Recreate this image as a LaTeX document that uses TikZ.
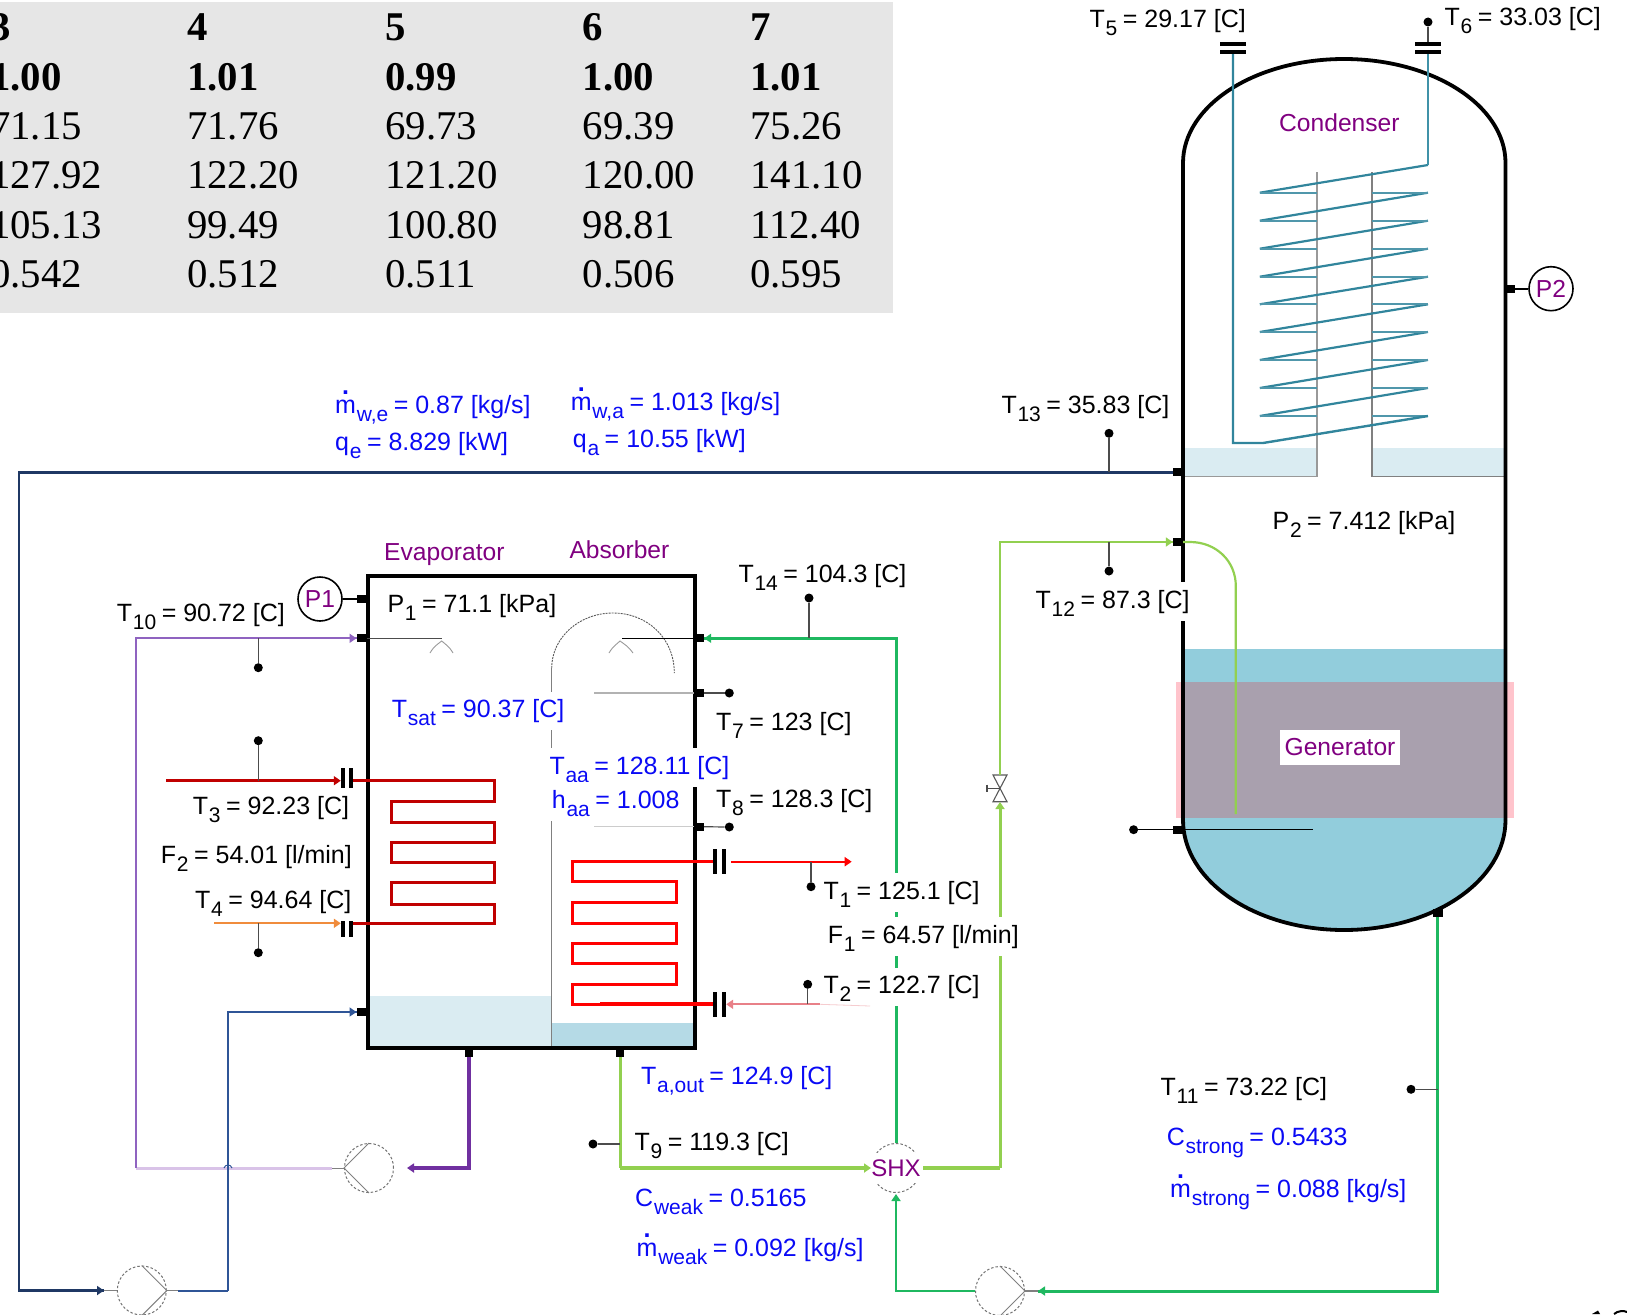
\documentclass[tikz,border=0pt]{standalone}
\usepackage{fontspec}
\setmainfont{Liberation Sans}
\newfontfamily\tabfont{Liberation Serif}
\usetikzlibrary{arrows.meta,calc}
\definecolor{tabgray}{HTML}{E6E6E6}
\definecolor{lblblue}{HTML}{0A0AF5}
\definecolor{lblpurple}{HTML}{800080}
\definecolor{liqpale}{HTML}{DAECF2}
\definecolor{liqmid}{HTML}{B5DAE6}
\definecolor{liqgen}{HTML}{92CDDC}
\definecolor{bandpink}{HTML}{FFC4CC}
\definecolor{bandmix}{HTML}{A9A0AE}
\definecolor{navy}{HTML}{1F3864}
\definecolor{midblue}{HTML}{2F5597}
\definecolor{vio}{HTML}{8F63C0}
\definecolor{viodark}{HTML}{7030A0}
\definecolor{viopale}{HTML}{D9C3E8}
\definecolor{lgreen}{HTML}{92D050}
\definecolor{dgreen}{HTML}{1FB860}
\definecolor{coilteal}{HTML}{31859C}
\definecolor{pipeteal}{HTML}{4BACC6}
\definecolor{darkred}{HTML}{C00000}
\definecolor{orangeline}{HTML}{F08C3C}
\definecolor{pinkline}{HTML}{E88088}
\newcommand{\lb}[3]{#1\raisebox{-.32em}{\kern.03em\fontsize{21}{23}\selectfont #2}\kern.22em #3}
\newcommand{\mdotx}{\makebox[0pt][l]{\kern.28em\raisebox{.76em}{\textbf{.}}}m}
\tikzset{
  txtbase/.style={anchor=base west,inner ysep=0pt,inner xsep=2pt,xshift=-2pt,font=\fontsize{25}{28}\selectfont},
  mask/.style={fill=white,text height=26pt,text depth=12.5pt},
  blk/.style={txtbase,text=black},
  blu/.style={txtbase,text=lblblue},
  pur/.style={txtbase,text=lblpurple,font=\fontsize{24.6}{28}\selectfont},
  tabcell/.style={anchor=base west,inner sep=0pt,font=\tabfont\fontsize{40.8}{44}\selectfont},
  port/.style={rectangle,fill=black,inner sep=0pt,minimum width=10pt,minimum height=8pt},
  dot/.style={circle,fill=black,inner sep=0pt,minimum size=9pt},
  gaugec/.style={circle,draw=black,line width=1.6pt,fill=white,inner sep=0pt,minimum size=44pt,
    text=lblpurple,font=\fontsize{24.6}{28}\selectfont},
  pumpc/.style={circle,draw=gray!90!black,line width=1pt,dash pattern=on 2.5pt off 2pt,inner sep=0pt,minimum size=49pt},
  pumpl/.style={draw=gray,line width=1pt},
  vbar/.style={rectangle,fill=black,inner sep=0pt,minimum width=4pt},
  hbar/.style={rectangle,fill=black,inner sep=0pt,minimum height=4pt,minimum width=26pt},
  sens/.style={draw=gray!60!black,line width=1.2pt},
  tipa/.style={-{Triangle[length=7pt,width=9pt]}},
  nozz/.style={draw=gray!80,line width=.9pt},
}
\begin{document}
\begin{tikzpicture}[x=1pt,y=-1pt]
\useasboundingbox (0,0) rectangle (1627,1314);
% table
\fill[tabgray] (0,2) rectangle (893,312.5);
\foreach \rr/\yy/\ca/\cb/\cc/\cd/\ce/\cf/\bfx in {
  a/41/3/4/5/6/7/x/1,
  b/90/1.00/1.01/0.99/1.00/1.01/x/1,
  c/139/71.15/71.76/69.73/69.39/75.26/x/0,
  d/188.5/127.92/122.20/121.20/120.00/141.10/x/0,
  e/238/105.13/99.49/100.80/98.81/112.40/x/0,
  f/287/0.542/0.512/0.511/0.506/0.595/x/0}{
  \ifnum\bfx=1 \def\fw{\bfseries}\else\def\fw{}\fi
  \node[tabcell] (cell\rr1) at (-10,\yy) {\fw\ca};
  \node[tabcell] (cell\rr2) at (186.8,\yy) {\fw\cb};
  \node[tabcell] (cell\rr3) at (385,\yy) {\fw\cc};
  \node[tabcell] (cell\rr4) at (582.7,\yy) {\fw\cd};
  \node[tabcell] (cell\rr5) at (750,\yy) {\fw\ce};
}
% condenser liquid, baffles
\fill[liqpale] (1183,448) rectangle (1316.8,476.7);
\fill[liqpale] (1372,448) rectangle (1505.5,476.7);
\draw[gray!80,line width=1.4pt] (1316.8,172) -- (1316.8,476.7) -- (1183,476.7);
\draw[gray,line width=1.4pt] (1372,172) -- (1372,476.7) -- (1505.5,476.7);
% generator liquid
\fill[liqgen] (1183,649) -- (1183,820) .. controls (1183,880.8) and (1254.8,930) .. (1344,930)
  .. controls (1433.2,930) and (1505.5,880.8) .. (1505.5,820) -- (1505.5,649) -- cycle;
\fill[bandpink] (1175.6,681.7) rectangle (1513.5,818.3);
\fill[bandmix] (1183,681.7) rectangle (1505.5,818.3);
% vessel wall
\draw[black,line width=3.8pt] (1183,820) -- (1183,163)
  .. controls (1183,105.6) and (1254.8,59) .. (1344,59)
  .. controls (1433.2,59) and (1505.5,105.6) .. (1505.5,163) -- (1505.5,820);
\draw[black,line width=3.8pt] (1183,820) .. controls (1183,880.8) and (1254.8,930) .. (1344,930)
  .. controls (1433.2,930) and (1505.5,880.8) .. (1505.5,820);
% condenser coil
\foreach \ya/\yb in {416/388,388/360,360/332,332/304.3,304.3/276.7,276.7/248.7,248.7/220.7,220.7/192.7,192.7/165}{
  \draw[coilteal,line width=2.2pt] (1259.8,\ya) -- (1428,\yb);
}
\foreach \yy in {416,388,360,332,304.3,276.7,248.7,220.7,192.7}{
  \draw[coilteal!85,line width=1.9pt] (1259.8,\yy) -- (1316.8,\yy);
  \draw[coilteal!85,line width=1.9pt] (1372,\yy) -- (1428,\yy);
}
\node[hbar] (fl5a) at (1233,44) {};
\node[hbar] (fl5b) at (1233,52) {};
\node[hbar] (fl6a) at (1428,44) {};
\node[hbar] (fl6b) at (1428,52) {};
\draw[coilteal,line width=2.4pt] (fl5b.south) -- (1233,443) -- (1263,443) -- (1428,416);
\draw[pipeteal!85!black,line width=2.2pt] (fl6b.south) -- (1428,165);
% evaporator/absorber liquid
\fill[liqpale] (370,995.7) rectangle (551.7,1047);
\fill[liqmid] (551.7,1023) rectangle (693,1047);
\draw[gray,line width=1.1pt] (551.7,1047) -- (551.7,668);
\draw[gray!70!black,line width=.9pt,dash pattern=on 2pt off 1pt] (551.7,668)
  .. controls (551.7,637.6) and (579.3,613) .. (613,613)
  .. controls (646.7,613) and (674.3,637.6) .. (674.3,673);
% evaporator/absorber wall
\draw[black,line width=3.8pt] (367.7,576) rectangle (695,1047.7);
% ports
\node[port] (pP1) at (361.7,599) {};
\node[port] (pT10) at (361.7,638.3) {};
\node[port] (pBlue) at (361.7,1012) {};
\node[port,minimum width=8pt,minimum height=9pt] (pEvapOut) at (469,1052) {};
\node[port,minimum width=8pt,minimum height=9pt] (pAbsOut) at (620.4,1052) {};
\node[port] (pT14) at (699,638.3) {};
\node[port] (pT7) at (699,693) {};
\node[port] (pT8) at (699,826.7) {};
\node[port] (pT13) at (1178,472.3) {};
\node[port] (pT12) at (1178,542) {};
\node[port] (pGenS) at (1178.3,829.7) {};
\node[port] (pStrong) at (1437.8,913) {};
\node[port] (pP2) at (1510,288.7) {};
% gauges
\node[gaugec] (gP1) at (320,599) {P1};
\node[gaugec] (gP2) at (1551,288.7) {P2};
\draw[black,line width=1.8pt] (gP1) -- (pP1);
\draw[black,line width=1.8pt] (gP2) -- (pP2);
% pumps
\node[pumpc] (pumpA) at (141.8,1290.5) {};
\node[pumpc] (pumpB) at (369,1168) {};
\node[pumpc] (pumpC) at (1000,1291) {};
\draw[pumpl] (pumpA.90) -- (pumpA.0) -- (pumpA.-90);
\draw[pumpl] (pumpB.90) -- (pumpB.180) -- (pumpB.-90);
\draw[pumpl] (pumpC.90) -- (pumpC.0) -- (pumpC.-90);
\node[pumpc] (shxc) at (896,1168) {};
% coordinates
\coordinate (navyTL) at (19,472.3);
\coordinate (navyBL) at (19,1290.5);
\coordinate (navyTip) at (104,1290.5);
\coordinate (blueB) at (228,1290.5);
\coordinate (blueStub) at (178,1290.5);
\coordinate (vioC) at (135.7,638.3);
\coordinate (vioB) at (135.7,1168);
\coordinate (vioE) at (332,1168);
\coordinate (purCorner) at (469,1168);
\coordinate (purTip) at (407,1168);
\coordinate (lgCorner) at (620.4,1168);
\coordinate (lgTip) at (871,1168);
\coordinate (rgCorner) at (1000,1168);
\coordinate (valveB) at (1000,802);
\coordinate (valveT) at (1000,775);
\coordinate (lgTop) at (1000,542);
\coordinate (dgCornerTop) at (896,638.3);
\coordinate (dgBL) at (896,1291);
\coordinate (dgTip) at (896,1194);
\coordinate (dgBR) at (1437.8,1291);
\coordinate (dgIn) at (1038,1291);
% valve
\draw[gray!70!black,line width=1.1pt] (993,775) -- (1007,775) -- (993,801.7) -- (1007,801.7) -- cycle;
\draw[gray!60!black,line width=1.6pt] (987,788.3) -- (1000,788.3);
\draw[gray!60!black,line width=1.6pt] (987,784.5) -- (987,792);
% pipes
\draw[navy,line width=2.8pt] (pT13.west) -- (navyTL) -- (navyBL) -- (navyTip);
\draw[navy,line width=2.8pt,tipa] (99,1290.5) -- (navyTip);
\draw[gray,line width=1.2pt] (navyTip) -- (pumpA.west);
\draw[gray,line width=1.2pt] (pumpA.east) -- (blueStub);
\draw[midblue,line width=2pt] (blueStub) -- (blueB);
\draw[viopale,line width=3pt] (vioB) -- (vioE);
\draw[gray,line width=1pt] (vioE) -- (pumpB.west);
\draw[vio,line width=2pt] (vioB) -- (vioC) -- (pT10.west);
\draw[vio,line width=2pt,tipa] (345,638.3) -- (pT10.west);
\draw[midblue,line width=1.5pt] (blueB) -- (228,1012) -- (pBlue.west);
\draw[midblue,line width=1.5pt,tipa] (345,1012) -- (pBlue.west);
\draw[midblue,line width=1pt] (224,1168) .. controls (225,1164) and (231,1164) .. (232,1168);
\draw[viodark,line width=3.2pt] (pEvapOut.south) -- (purCorner) -- (412,1168);
\draw[viodark,tipa,line width=3.2pt] (412,1168) -- (purTip);
\draw[lgreen,line width=2.2pt] (pAbsOut.south) -- (lgCorner);
\draw[lgreen,line width=3.6pt] (lgCorner) -- (866,1168);
\draw[lgreen,line width=3.6pt,tipa] (866,1168) -- (lgTip);
\draw[lgreen,line width=3.6pt] (923,1168) -- (rgCorner);
\draw[lgreen,line width=3pt] (rgCorner) -- (1000,808);
\draw[lgreen,line width=3pt,tipa] (1000,808) -- (valveB);
\draw[lgreen,line width=2.6pt] (valveT) -- (lgTop) -- (pT12.west);
\draw[lgreen,line width=2.6pt,tipa] (1165,542) -- (pT12.west);
\draw[lgreen,line width=2.2pt] (pT12.east) -- (1190,542) .. controls (1216,542) and (1235.8,561) .. (1235.8,586) -- (1235.8,814);
\draw[dgreen,line width=3pt] (shxc.north) -- (dgCornerTop) -- (pT14.east);
\draw[dgreen,line width=3pt,tipa] (712,638.3) -- (pT14.east);
\draw[dgreen,line width=1.8pt] (pumpC.west) -- (dgBL) -- (896,1200);
\draw[dgreen,line width=1.8pt,tipa] (896,1202) -- (dgTip);
\draw[dgreen,line width=3pt] (pStrong.south) -- (dgBR) -- (dgIn);
\draw[dgreen,line width=3pt,tipa] (1045,1291) -- (dgIn);
\draw[gray,line width=1.2pt] (dgIn) -- (pumpC.east);
% evaporator and absorber inner lines, nozzles
\draw[gray!60!black,line width=1.1pt] (pT10.east) -- (441.7,638.3);
\draw[nozz] (430,653) .. controls (434,646) and (438,644) .. (441.7,641) .. controls (445,644) and (449,646) .. (453,653);
\draw[black,line width=1.3pt] (pT14.west) -- (622,638.3);
\draw[nozz] (609,653) .. controls (613,646) and (617,644) .. (620,641) .. controls (624,644) and (628,646) .. (633,653);
\draw[gray!60,line width=1.1pt] (pT7.west) -- (594,693);
\draw[gray!40,line width=1.1pt] (pT8.west) -- (594,826.7);
% evaporator coil
\node[vbar,minimum height=20.3pt] (fl3a) at (343,778) {};
\node[vbar,minimum height=20.3pt] (fl3b) at (350.7,778) {};
\node[vbar,minimum height=15.7pt] (fl4a) at (343,929) {};
\node[vbar,minimum height=15.7pt] (fl4b) at (350.7,929) {};
\draw[darkred,line width=3pt] (fl3b.east |- 0,780.7) -- (494.3,780.7) -- (494.3,801) -- (391.7,801) -- (391.7,822.7)
  -- (494.3,822.7) -- (494.3,842.7) -- (391.7,842.7) -- (391.7,862.3) -- (494.3,862.3) -- (494.3,882.3)
  -- (391.7,882.3) -- (391.7,904) -- (494.3,904) -- (494.3,923.3) -- (fl4b.east |- 0,923.3);
\coordinate (r3in) at (166,780.7);
\coordinate (o4in) at (214,923.3);
\draw[darkred,line width=2.8pt,tipa] (r3in) -- (fl3a.west |- 0,780.7);
\draw[orangeline,line width=1.8pt,tipa] (o4in) -- (fl4a.west |- 0,923.3);
% absorber coil
\node[vbar,minimum height=25.3pt] (fl1a) at (715,861.7) {};
\node[vbar,minimum height=25.3pt] (fl1b) at (724,861.7) {};
\node[vbar,minimum height=24.4pt] (fl2a) at (715,1004.5) {};
\node[vbar,minimum height=24.4pt] (fl2b) at (724,1004.5) {};
\draw[red,line width=3pt] (fl1a.west) -- (572.7,861.7) -- (572.7,881.7) -- (676,881.7) -- (676,902.7) -- (572.7,902.7)
  -- (572.7,923.3) -- (676,923.3) -- (676,943.3) -- (572.7,943.3) -- (572.7,963.3) -- (676,963.3)
  -- (676,984) -- (572.7,984) -- (572.7,1004.3) -- (600,1004.3);
\draw[red,line width=3.8pt] (600,1004.3) -- (fl2a.west |- 0,1004.3);
\coordinate (r1out) at (851.7,861.7);
\coordinate (r2in) at (820,1004.3);
\coordinate (r1start) at (731,861.7);
\draw[red,line width=2pt,tipa] (r1start) -- (r1out);
\draw[pinkline,line width=1.8pt,tipa] (r2in) -- (fl2b.east |- 0,1004.3);
% labels
\node[blk] (lT5) at (1089.5,27.3) {\lb{T}{5}{= 29.17 [C]}};
\node[blk] (lT6) at (1444.5,26) {\lb{T}{6}{= 33.03 [C]}};
\node[pur] (lCond) at (1279,131.7) {Condenser};
\node[blk] (lT13) at (1001.3,413.3) {\lb{T}{13}{= 35.83 [C]}};
\node[blu] (lmwe) at (335,413.3) {\lb{\mdotx}{w,e}{= 0.87 [kg/s]}};
\node[blu] (lqe) at (335,450) {\lb{q}{e}{= 8.829 [kW]}};
\node[blu] (lmwa) at (570.7,410.7) {\lb{\mdotx}{w,a}{= 1.013 [kg/s]}};
\node[blu] (lqa) at (572.7,447.5) {\lb{q}{a}{= 10.55 [kW]}};
\node[blk] (lP2) at (1272.4,529) {\lb{P}{2}{= 7.412 [kPa]}};
\node[blk,mask] (lT12) at (1035.5,608) {\lb{T}{12}{= 87.3 [C]}};
\node[pur] (lEvap) at (384,560) {Evaporator};
\node[pur] (lAbs) at (569.3,558.3) {Absorber};
\node[blk] (lT14) at (738.3,582.5) {\lb{T}{14}{= 104.3 [C]}};
\node[blk] (lP1) at (387.3,612.7) {\lb{P}{1}{= 71.1 [kPa]}};
\node[blk] (lT10) at (116.7,621.7) {\lb{T}{10}{= 90.72 [C]}};
\node[blu,mask] (lTsat) at (391.7,717.7) {\lb{T}{sat}{= 90.37 [C]}};
\node[blk] (lT7) at (716,730.7) {\lb{T}{7}{= 123 [C]}};
\node[blu,mask] (lTaa) at (549.3,774) {\lb{T}{aa}{= 128.11 [C]}};
\node[blu,mask] (lhaa) at (551.7,808.3) {\lb{h}{aa}{= 1.008}};
\node[blk] (lT8) at (716,807.8) {\lb{T}{8}{= 128.3 [C]}};
\node[blk] (lT3) at (192.7,814) {\lb{T}{3}{= 92.23 [C]}};
\node[blk] (lF2) at (160.7,863.3) {\lb{F}{2}{= 54.01 [l/min]}};
\node[blk] (lT4) at (195,908.5) {\lb{T}{4}{= 94.64 [C]}};
\node[blk,mask] (lT1) at (823.3,899) {\lb{T}{1}{= 125.1 [C]}};
\node[blk,mask] (lF1) at (827.7,943.3) {\lb{F}{1}{= 64.57 [l/min]}};
\node[blk,mask] (lT2) at (823.3,993.5) {\lb{T}{2}{= 122.7 [C]}};
\node[blk] (lT11) at (1160.5,1095) {\lb{T}{11}{= 73.22 [C]}};
\node[blu] (lCs) at (1166.6,1145) {\lb{C}{strong}{= 0.5433}};
\node[blu] (lms) at (1170,1197) {\lb{\mdotx}{strong}{= 0.088 [kg/s]}};
\node[blu] (lTo) at (641,1084) {\lb{T}{a,out}{= 124.9 [C]}};
\node[blk] (lT9) at (634.4,1150.5) {\lb{T}{9}{= 119.3 [C]}};
\node[blu] (lCw) at (635,1206.5) {\lb{C}{weak}{= 0.5165}};
\node[blu] (lmw) at (636.5,1256) {\lb{\mdotx}{weak}{= 0.092 [kg/s]}};
\node[fill=white,text=lblpurple,inner sep=0pt,minimum width=120pt,minimum height=35pt,font=\fontsize{24.6}{28}\selectfont] (lGen) at (1340,747) {Generator};
\node[fill=white,text=lblpurple,inner sep=0pt,minimum width=46pt,minimum height=30pt,font=\fontsize{24}{28}\selectfont] (lSHX) at (896,1168) {SHX};
\draw[pinkline!40,line width=.8pt] (r2in) -- (870,1006);
% sensors
\node[dot] (sT6) at (1428,22) {};
\draw[sens] (sT6) -- (fl6a);
\node[dot] (sT13) at (1109,433.3) {};
\draw[sens] (sT13) -- (1109,472.3);
\node[dot] (sT12) at (1109,571) {};
\draw[sens] (sT12) -- (1109,542);
\node[dot] (sT10) at (258.3,667.7) {};
\draw[sens] (sT10) -- (258.3,638.3);
\node[dot] (sT3) at (258.3,740.7) {};
\draw[sens] (sT3) -- (258.3,780.7);
\node[dot] (sT4) at (258.3,952.7) {};
\draw[sens] (sT4) -- (258.3,923.3);
\node[dot] (sT14) at (809,598) {};
\draw[sens] (sT14) -- (809,638.3);
\node[dot] (sT7) at (729.3,693) {};
\draw[sens] (sT7) -- (pT7);
\node[dot] (sT8) at (729.3,827) {};
\draw[sens] (sT8) -- (pT8);
\node[dot] (sT1) at (811,886.7) {};
\draw[sens] (sT1) -- (811,861.7);
\node[dot] (sT2) at (807.7,984.3) {};
\draw[sens] (sT2) -- (807.7,1004.3);
\node[dot] (sT9) at (593,1144) {};
\draw[sens] (sT9) -- (620.4,1144);
\node[dot] (sT11) at (1411,1089.3) {};
\draw[sens] (sT11) -- (1437.8,1089.3);
\node[dot] (sGen) at (1133.6,829.7) {};
\draw[black,line width=1.4pt] (sGen) -- (pGenS);
\draw[black,line width=1.4pt] (pGenS) -- (1312.8,829.7);
% page corner marks
\fill[black] (1592,1314) -- (1598,1310.5) -- (1600,1314) -- cycle;
\draw[black,line width=2pt] (1614,1314) .. controls (1618,1310.5) and (1624,1310.5) .. (1627,1312);
\end{tikzpicture}
\end{document}
